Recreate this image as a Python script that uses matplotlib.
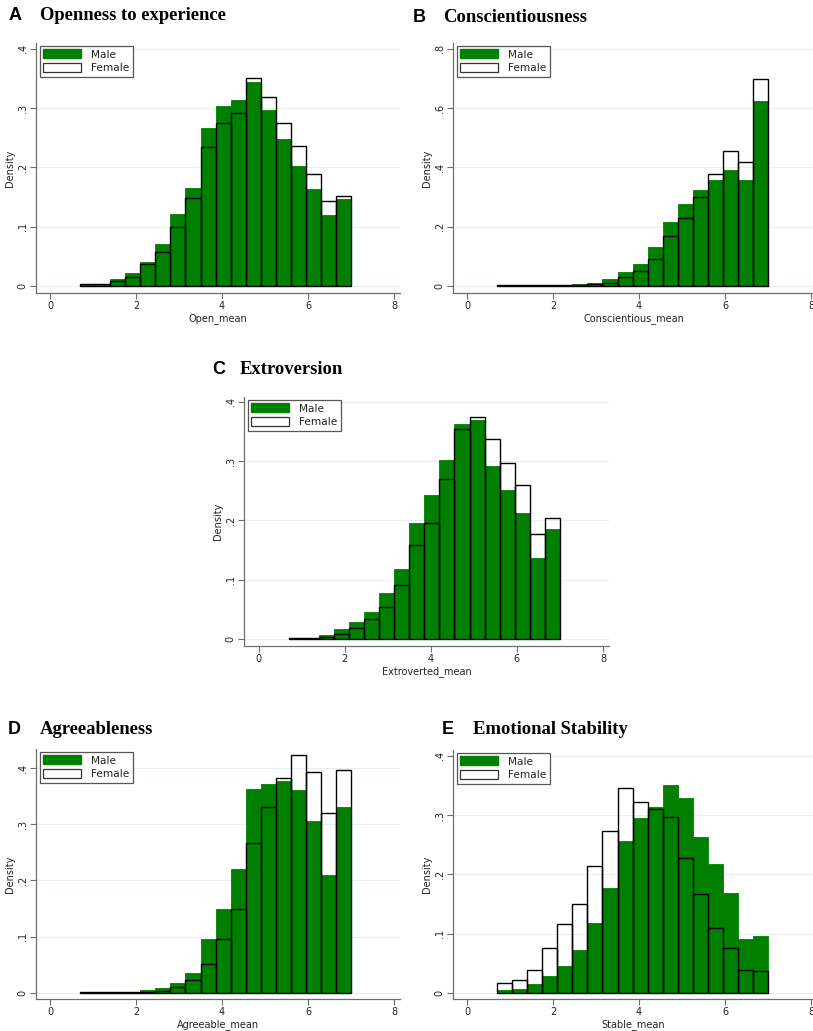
import matplotlib
matplotlib.use("Agg")
import matplotlib.pyplot as plt
from matplotlib.patches import Patch
from matplotlib.ticker import FuncFormatter
import numpy as np

W, H = 813, 1031
bin_edges = [0.7, 1.05, 1.4, 1.75, 2.1, 2.45, 2.8, 3.15, 3.5, 3.85, 4.2,
             4.55, 4.9, 5.25, 5.6, 5.95, 6.3, 6.65, 7.0]

open_male = [0.004, 0.003, 0.011, 0.022, 0.040, 0.071, 0.121, 0.166, 0.267,
             0.304, 0.313, 0.344, 0.296, 0.248, 0.202, 0.163, 0.119, 0.147]
open_female = [0.004, 0.003, 0.008, 0.015, 0.037, 0.058, 0.100, 0.148, 0.235,
               0.275, 0.291, 0.350, 0.319, 0.275, 0.236, 0.189, 0.143, 0.151]

consc_male = [0.001, 0.001, 0.001, 0.001, 0.002, 0.007, 0.010, 0.022, 0.046,
              0.075, 0.130, 0.215, 0.276, 0.324, 0.358, 0.391, 0.358, 0.625]
consc_female = [0.002, 0.002, 0.002, 0.002, 0.002, 0.002, 0.006, 0.010, 0.030,
                0.052, 0.092, 0.167, 0.228, 0.300, 0.376, 0.455, 0.418, 0.696]

extra_male = [0.001, 0.002, 0.006, 0.017, 0.029, 0.045, 0.077, 0.118, 0.195,
              0.243, 0.302, 0.363, 0.370, 0.292, 0.251, 0.213, 0.137, 0.185]
extra_female = [0.001, 0.001, 0.003, 0.009, 0.019, 0.033, 0.054, 0.091, 0.158,
                0.196, 0.270, 0.354, 0.375, 0.337, 0.296, 0.259, 0.177, 0.204]

agree_male = [0.001, 0.002, 0.001, 0.002, 0.005, 0.009, 0.018, 0.035, 0.095,
              0.149, 0.220, 0.362, 0.371, 0.377, 0.361, 0.305, 0.210, 0.331]
agree_female = [0.002, 0.0005, 0.001, 0.001, 0.002, 0.003, 0.010, 0.022, 0.051,
                0.096, 0.149, 0.266, 0.330, 0.383, 0.423, 0.393, 0.320, 0.396]

stable_male = [0.004, 0.006, 0.014, 0.029, 0.045, 0.072, 0.117, 0.177, 0.256,
               0.295, 0.314, 0.351, 0.329, 0.263, 0.217, 0.168, 0.091, 0.095]
stable_female = [0.016, 0.022, 0.038, 0.076, 0.116, 0.150, 0.214, 0.273, 0.346,
                 0.322, 0.310, 0.297, 0.227, 0.166, 0.109, 0.076, 0.038, 0.037]

panels = [
    dict(letter="A", title="Openness to experience", xlabel="Open_mean",
         male=open_male, female=open_female, yticks=[0, 0.1, 0.2, 0.3, 0.4],
         box=(36, 400, 43, 293), xlim=(-0.326, 8.14), ylim=(-0.0118, 0.4096),
         letter_xy=(9, 16), title_xy=(40, 16)),
    dict(letter="B", title="Conscientiousness", xlabel="Conscientious_mean",
         male=consc_male, female=consc_female, yticks=[0, 0.2, 0.4, 0.6, 0.8],
         box=(453, 814, 43, 293), xlim=(-0.326, 8.07), ylim=(-0.0236, 0.819),
         letter_xy=(413, 17), title_xy=(443, 17)),
    dict(letter="C", title="Extroversion", xlabel="Extroverted_mean",
         male=extra_male, female=extra_female, yticks=[0, 0.1, 0.2, 0.3, 0.4],
         box=(244, 609, 397, 646), xlim=(-0.34, 8.14), ylim=(-0.0118, 0.408),
         letter_xy=(212, 369), title_xy=(240, 369)),
    dict(letter="D", title="Agreeableness", xlabel="Agreeable_mean",
         male=agree_male, female=agree_female, yticks=[0, 0.1, 0.2, 0.3, 0.4],
         box=(36, 400, 749, 999), xlim=(-0.326, 8.14), ylim=(-0.0112, 0.434),
         letter_xy=(8, 729), title_xy=(40, 729)),
    dict(letter="E", title="Emotional Stability", xlabel="Stable_mean",
         male=stable_male, female=stable_female, yticks=[0, 0.1, 0.2, 0.3, 0.4],
         box=(453, 814, 750, 999), xlim=(-0.326, 8.07), ylim=(-0.0106, 0.41),
         letter_xy=(442, 729), title_xy=(473, 729)),
]

GREEN = "#007f00"
AXCOL = "#6e6e6e"

fig = plt.figure(figsize=(W / 100, H / 100), dpi=100)
fig.patch.set_facecolor("white")

def yfmt(v, pos):
    if abs(v) < 1e-9:
        return "0"
    s = f"{v:.1f}"
    return s.lstrip("0")

for p in panels:
    l, r, t, b = p["box"]
    ax = fig.add_axes([l / W, 1 - b / H, (r - l) / W, (b - t) / H])
    left = bin_edges[:-1]
    width = np.diff(bin_edges)
    ax.bar(left, p["male"], width=width, align="edge", color=GREEN,
           edgecolor=GREEN, linewidth=0.6, zorder=2)
    ax.bar(left, p["female"], width=width, align="edge", fill=False,
           edgecolor="black", linewidth=1.0, zorder=3)
    ax.set_xlim(*p["xlim"])
    ax.set_ylim(*p["ylim"])
    ax.set_xticks([0, 2, 4, 6, 8])
    ax.set_yticks(p["yticks"])
    ax.yaxis.set_major_formatter(FuncFormatter(yfmt))
    ax.grid(axis="y", color="#e6eff1", linewidth=0.8, zorder=0)
    ax.set_axisbelow(True)
    for s in ["top", "right"]:
        ax.spines[s].set_visible(False)
    for s in ["left", "bottom"]:
        ax.spines[s].set_color(AXCOL)
        ax.spines[s].set_linewidth(0.9)
    ax.tick_params(axis="both", colors=AXCOL, labelcolor="#222222",
                   length=4, width=0.8, labelsize=7, pad=2)
    for lab in ax.get_yticklabels():
        lab.set_rotation(90)
        lab.set_va("center")
    ax.set_xlabel(p["xlabel"], fontsize=7, color="#222222", labelpad=1)
    ax.set_ylabel("Density", fontsize=7, color="#222222", labelpad=2)
    handles = [Patch(facecolor=GREEN, edgecolor=GREEN, label="Male"),
               Patch(facecolor="white", edgecolor="#333333", linewidth=0.9,
                     label="Female")]
    leg = ax.legend(handles=handles, loc="upper left",
                    bbox_to_anchor=(4 / (r - l), 1 - 3 / (b - t)),
                    borderaxespad=0, fontsize=7.6, handlelength=3.6,
                    handleheight=0.95, handletextpad=0.9, labelspacing=0.35,
                    borderpad=0.32, fancybox=False, framealpha=1)
    leg.get_frame().set_edgecolor("#555555")
    leg.get_frame().set_linewidth(0.9)
    for txt in leg.get_texts():
        txt.set_color("#222222")
    lx, ly = p["letter_xy"]
    tx, ty = p["title_xy"]
    fig.text(lx / W, 1 - ly / H, p["letter"], fontsize=13, fontweight="bold",
             family="Liberation Sans", va="center", ha="left")
    fig.text(tx / W, 1 - ty / H, p["title"], fontsize=13.4, fontweight="bold",
             family="Liberation Serif", va="center", ha="left")

fig.savefig("out.png", dpi=100)
